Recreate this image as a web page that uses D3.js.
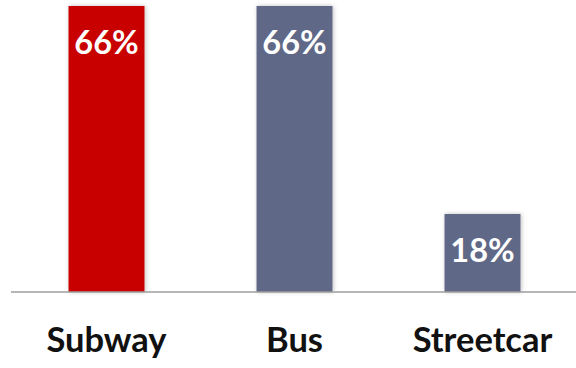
<!DOCTYPE html>
<html>
<head>
<meta charset="utf-8">
<script src="https://cdn.jsdelivr.net/npm/d3@7"></script>
<style>
  html, body { margin: 0; padding: 0; background: #fff; }
  svg { display: block; }
</style>
</head>
<body>
<svg id="chart" width="576" height="368"></svg>
<script>
// Share of riders by mode
const categories = ["Subway", "Bus", "Streetcar"];
const shares = [66, 66, 18];
const valueLabels = ["66%", "66%", "18%"];
const barColors = ["#C80000", "#5F6886", "#5F6886"];

const width = 576, height = 368;
const baseY = 292, topY = 6;

const svg = d3.select("#chart");

const defs = svg.append("defs");
const shadow = defs.append("filter").attr("id", "barShadow")
  .attr("x", "-20%").attr("y", "-5%").attr("width", "140%").attr("height", "110%");
shadow.append("feDropShadow")
  .attr("dx", 1).attr("dy", 0).attr("stdDeviation", 2)
  .attr("flood-color", "#000").attr("flood-opacity", 0.25);

const x = d3.scaleBand()
  .domain(categories)
  .range([12.5, 576.5])
  .paddingInner(0.596)
  .paddingOuter(0.298);

const y = d3.scaleLinear().domain([0, 66]).range([baseY, topY]);

const data = categories.map((c, i) => ({ cat: c, v: shares[i], label: valueLabels[i], color: barColors[i] }));

svg.append("g").selectAll("rect")
  .data(data).join("rect")
  .attr("x", d => x(d.cat))
  .attr("y", d => y(d.v))
  .attr("width", x.bandwidth())
  .attr("height", d => y(0) - y(d.v))
  .attr("fill", d => d.color)
  .attr("filter", "url(#barShadow)");

// baseline
svg.append("line")
  .attr("x1", 11).attr("x2", width)
  .attr("y1", baseY).attr("y2", baseY)
  .attr("stroke", "#9E9E9E").attr("stroke-width", 1.5);

// value labels inside the bars
svg.append("g").selectAll("text")
  .data(data).join("text")
  .attr("x", d => x(d.cat) + x.bandwidth() / 2)
  .attr("y", d => y(d.v) + 48)
  .attr("text-anchor", "middle")
  .attr("fill", "#fff")
  .style("font-family", "Lato, 'Open Sans', sans-serif")
  .style("font-weight", "bold")
  .style("font-size", "32.5px")
  .text(d => d.label);

// category labels
svg.append("g").selectAll("text")
  .data(data).join("text")
  .attr("x", d => x(d.cat) + x.bandwidth() / 2)
  .attr("y", 352)
  .attr("text-anchor", "middle")
  .attr("fill", "#111")
  .style("font-family", "Lato, 'Open Sans', sans-serif")
  .style("font-weight", "bold")
  .style("font-size", "34.5px")
  .text(d => d.cat);
</script>
</body>
</html>
